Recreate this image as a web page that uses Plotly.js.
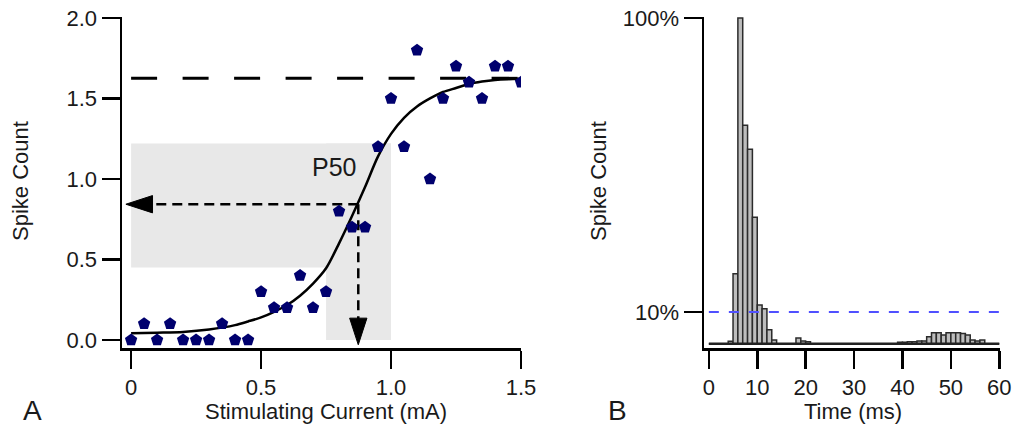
<!DOCTYPE html>
<html><head><meta charset="utf-8">
<script src="https://cdn.plot.ly/plotly-3.0.1.min.js"></script>
<style>html,body{margin:0;padding:0;background:#fff}#chart{width:1016px;height:436px}</style>
</head><body><div id="chart"></div>
<script>
// ---------- Panel A: spike count vs stimulating current ----------
const currentMA  = [0, 0.05, 0.1, 0.15, 0.2, 0.25, 0.3, 0.35, 0.4, 0.45, 0.5, 0.55, 0.6, 0.65, 0.7, 0.75, 0.8, 0.85, 0.9, 0.95, 1.0, 1.05, 1.1, 1.15, 1.2, 1.25, 1.3, 1.35, 1.4, 1.45, 1.5];
const spikeCount = [0, 0.1, 0, 0.1, 0, 0, 0, 0.1, 0, 0, 0.3, 0.2, 0.2, 0.4, 0.2, 0.3, 0.8, 0.7, 0.7, 1.2, 1.5, 1.2, 1.8, 1.0, 1.5, 1.7, 1.6, 1.5, 1.7, 1.7, 1.6];
const fitCurrent = [0, 0.1, 0.2, 0.3, 0.4, 0.45, 0.5, 0.55, 0.6, 0.65, 0.7, 0.75, 0.8, 0.85, 0.9, 0.95, 1.0, 1.05, 1.1, 1.15, 1.2, 1.25, 1.3, 1.35, 1.4, 1.45, 1.5];
const fitCount   = [0.041, 0.045, 0.05, 0.065, 0.092, 0.115, 0.14, 0.175, 0.217, 0.275, 0.35, 0.445, 0.60, 0.77, 0.95, 1.14, 1.28, 1.38, 1.45, 1.50, 1.54, 1.565, 1.59, 1.605, 1.615, 1.62, 1.622];
const plateauCount = 1.625;
const p50Current = 0.874;
const p50Count = 0.843;
const bandCurrent = [0.75, 1.0];
const bandCount = [0.45, 1.22];
const xTickVals = [0, 0.5, 1.0, 1.5];
const xTickText = ['0', '0.5', '1.0', '1.5'];
const yTickVals = [0, 0.5, 1.0, 1.5, 2.0];
const yTickText = ['0.0', '0.5', '1.0', '1.5', '2.0'];

// ---------- Panel B: spike time histogram (fraction of max) ----------
const timeBinStart = [0,1,2,3,4,5,6,7,8,9,10,11,12,13,14,15,16,17,18,19,20,21,22,23,24,25,26,27,28,29,30,31,32,33,34,35,36,37,38,39,40,41,42,43,44,45,46,47,48,49,50,51,52,53,54,55,56,57,58,59];
const spikeFraction = [0.078,0.078,0.078,0.078,0.0795,0.135,1.0,0.432,0.358,0.21,0.1055,0.1025,0.087,0.0803,0.078,0.078,0.078,0.078,0.0815,0.0797,0.0792,0.078,0.078,0.078,0.078,0.078,0.078,0.078,0.078,0.078,0.078,0.078,0.078,0.078,0.078,0.078,0.078,0.078,0.078,0.0789,0.0789,0.0792,0.0792,0.0797,0.0797,0.0824,0.085,0.085,0.0835,0.085,0.085,0.085,0.0845,0.0835,0.0803,0.0797,0.0803,0.078,0.078,0.078];
const histBase = 0.078;
const binWidth = 1;
const thresholdFraction = 0.1;
const bTickVals = [0.1, 1];
const bTickText = ['10%', '100%'];

const FONT = 'Liberation Sans, Arial, sans-serif';
const TXT = '#1a1a1a';
const lastT = timeBinStart[timeBinStart.length - 1] + binWidth;

const arrowMarker = { symbol: ['circle', 'arrow'], size: [0, 28], angleref: 'previous', color: '#000', opacity: 1,
  line: { color: '#000', width: 1 } };

const traces = [
  { x: fitCurrent, y: fitCount, type: 'scatter', mode: 'lines', xaxis: 'x', yaxis: 'y',
    line: { color: '#000', width: 2.5, shape: 'spline', smoothing: 0.8 }, hoverinfo: 'skip' },
  { x: [fitCurrent[0], fitCurrent[fitCurrent.length - 1]], y: [plateauCount, plateauCount], type: 'scatter', mode: 'lines',
    xaxis: 'x', yaxis: 'y', line: { color: '#000', width: 3, dash: '26px,25.5px' }, hoverinfo: 'skip' },
  { x: [p50Current, -0.02], y: [p50Count, p50Count], type: 'scatter', mode: 'lines+markers', xaxis: 'x', yaxis: 'y',
    line: { color: '#000', width: 2.5, dash: '10px,6px' }, marker: arrowMarker, hoverinfo: 'skip' },
  { x: [p50Current, p50Current], y: [p50Count, -0.03], type: 'scatter', mode: 'lines+markers', xaxis: 'x', yaxis: 'y',
    line: { color: '#000', width: 2.5, dash: '10px,6px' }, marker: arrowMarker, hoverinfo: 'skip' },
  { x: currentMA, y: spikeCount, type: 'scatter', mode: 'markers', xaxis: 'x', yaxis: 'y',
    marker: { symbol: 'pentagon', size: 13, color: '#00006e', line: { width: 0 } } },

  { x: timeBinStart, y: spikeFraction.map(v => v - histBase), base: histBase, type: 'bar', xaxis: 'x2', yaxis: 'y2',
    width: binWidth, offset: 0,
    marker: { color: '#bdbdbd', line: { color: '#2b2b2b', width: 1.5 } } },
  { x: [timeBinStart[0], lastT], y: [histBase, histBase], type: 'scatter', mode: 'lines', xaxis: 'x2', yaxis: 'y2',
    line: { color: '#222', width: 2.5 }, hoverinfo: 'skip' },
  { x: [timeBinStart[0], lastT], y: [thresholdFraction, thresholdFraction], type: 'scatter', mode: 'lines', xaxis: 'x2', yaxis: 'y2',
    line: { color: '#5050ff', width: 2, dash: '10px,10px' }, hoverinfo: 'skip' }
];

const W = 1016, H = 436;
const axCommon = {
  showline: true, linecolor: '#000', linewidth: 2.5, ticks: 'outside', ticklen: 18, tickwidth: 2.5, tickcolor: '#000',
  showgrid: false, zeroline: false, tickfont: { family: FONT, size: 22, color: TXT }, fixedrange: true
};
const yDom = [1 - 348 / H, 1 - 17 / H];
const lbl = (text, x, y, size, extra) => Object.assign({ text: text, xref: 'paper', yref: 'paper', x: x / W, y: 1 - y / H,
  xanchor: 'center', yanchor: 'middle', showarrow: false, font: { family: FONT, size: size, color: TXT } }, extra || {});

const layout = {
  width: W, height: H, margin: { l: 0, r: 0, t: 0, b: 0 },
  paper_bgcolor: '#fff', plot_bgcolor: 'rgba(0,0,0,0)', showlegend: false, bargap: 0,
  xaxis: Object.assign({}, axCommon, { domain: [122 / W, 521 / W], range: [-0.035, 1.5], tickvals: xTickVals, ticktext: xTickText, anchor: 'y' }),
  yaxis: Object.assign({}, axCommon, { domain: yDom, range: [-0.05, 2.006], tickvals: yTickVals, ticktext: yTickText, anchor: 'x' }),
  xaxis2: Object.assign({}, axCommon, { domain: [704 / W, 1000 / W], range: [-1.0, 60.15], dtick: 10, tick0: 0, anchor: 'y2' }),
  yaxis2: Object.assign({}, axCommon, { domain: yDom, type: 'log', range: [Math.log10(0.0754), Math.log10(1.008)], tickvals: bTickVals, ticktext: bTickText, anchor: 'x2' }),
  shapes: [
    { type: 'rect', xref: 'x', yref: 'y', x0: 0, x1: bandCurrent[1], y0: bandCount[0], y1: bandCount[1], fillcolor: '#e8e8e8', line: { width: 0 }, layer: 'below' },
    { type: 'rect', xref: 'x', yref: 'y', x0: bandCurrent[0], x1: bandCurrent[1], y0: 0, y1: bandCount[1], fillcolor: '#e8e8e8', line: { width: 0 }, layer: 'below' }
  ],
  annotations: [
    lbl('Spike Count', 20, 181, 22, { textangle: -90 }),
    lbl('Spike Count', 598, 181, 22, { textangle: -90 }),
    lbl('Stimulating Current (mA)', 326, 411, 22),
    lbl('Time (ms)', 853, 411, 22),
    lbl('A', 32, 410, 28),
    lbl('B', 617, 410, 28),
    { text: 'P50', xref: 'x', yref: 'y', x: 0.78, y: 1.075, xanchor: 'center', yanchor: 'middle', showarrow: false, font: { family: FONT, size: 25, color: TXT } }
  ]
};

Plotly.newPlot('chart', traces, layout, { staticPlot: true, displayModeBar: false });
</script>
</body></html>
